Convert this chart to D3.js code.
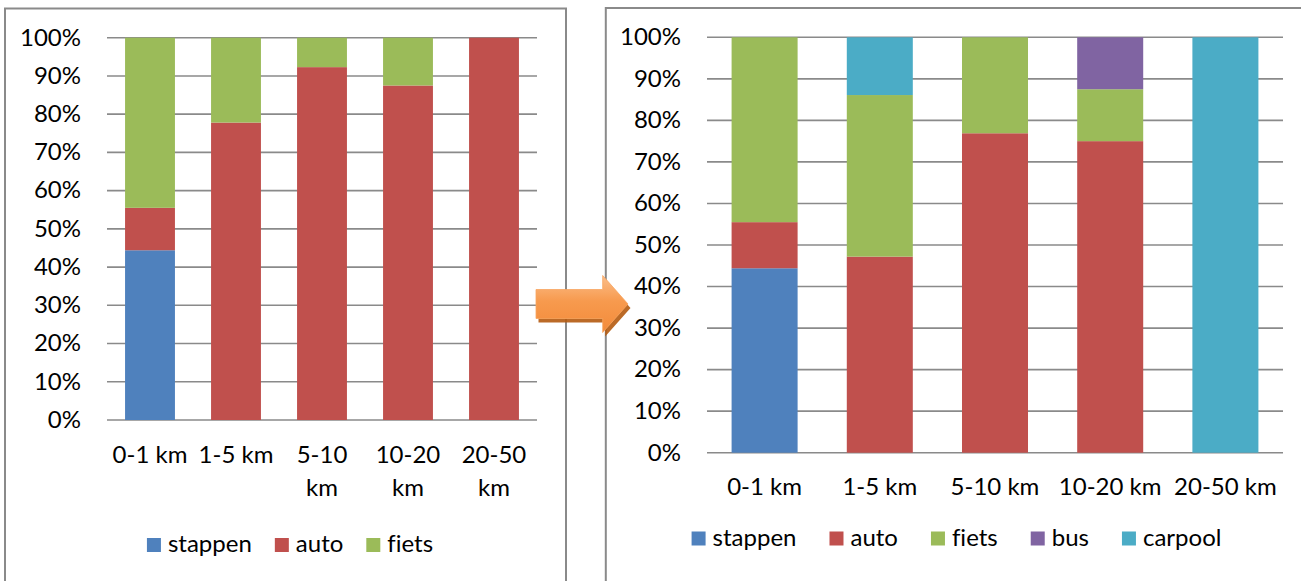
<!DOCTYPE html>
<html><head><meta charset="utf-8">
<script src="https://cdn.jsdelivr.net/npm/d3@7"></script>
<style>
html,body{margin:0;padding:0;background:#fff;overflow:hidden}
svg{display:block}
text{font-family:Lato,"Liberation Sans",sans-serif;fill:#000;font-variant-ligatures:none;font-feature-settings:"liga" 0}
</style></head><body>
<svg id="chart" width="1301" height="581"></svg>
<script>
// ---------- data ----------
const categories = ["0-1 km", "1-5 km", "5-10 km", "10-20 km", "20-50 km"];

const beforeKeys = ["stappen", "auto", "fiets"];
const beforeStappen = [44.4, 0, 0, 0, 0];
const beforeAuto    = [11.1, 77.8, 92.3, 87.5, 100];
const beforeFiets   = [44.5, 22.2, 7.7, 12.5, 0];

const afterKeys = ["stappen", "auto", "fiets", "bus", "carpool"];
const afterStappen = [44.4, 0, 0, 0, 0];
const afterAuto    = [11.1, 47.2, 76.9, 75.0, 0];
const afterFiets   = [44.5, 38.9, 23.1, 12.5, 0];
const afterBus     = [0, 0, 0, 12.5, 0];
const afterCarpool = [0, 13.9, 0, 0, 100];

const yTickValues = [0, 10, 20, 30, 40, 50, 60, 70, 80, 90, 100];
const yTickLabels = ["0%", "10%", "20%", "30%", "40%", "50%", "60%", "70%", "80%", "90%", "100%"];

const colors = {stappen: "#4F81BD", auto: "#C0504D", fiets: "#9BBB59", bus: "#8064A2", carpool: "#4BACC6"};

// ---------- drawing ----------
const svg = d3.select("#chart");
const FONT = 24;
const GRID = "#8a8a8a";

function buildRows(keys, arrays) {
  return categories.map((c, i) => {
    const r = {cat: c};
    keys.forEach((k, j) => r[k] = arrays[j][i]);
    return r;
  });
}

function drawPanel(cfg) {
  const g = svg.append("g");
  // frame
  g.append("rect")
    .attr("x", cfg.box.x).attr("y", cfg.box.y)
    .attr("width", cfg.box.w).attr("height", cfg.box.h)
    .attr("fill", "#fff").attr("stroke", GRID).attr("stroke-width", 2);

  const x = d3.scaleBand().domain(categories)
    .range([cfg.plot.left, cfg.plot.right])
    .paddingInner(cfg.pad).paddingOuter(cfg.pad / 2);
  const y = d3.scaleLinear().domain([0, 100]).range([cfg.plot.bottom, cfg.plot.top]);

  // gridlines
  g.append("g").selectAll("line").data(yTickValues).join("line")
    .attr("x1", cfg.plot.left).attr("x2", cfg.plot.right)
    .attr("y1", d => y(d)).attr("y2", d => y(d))
    .attr("stroke", GRID).attr("stroke-width", 1.6);

  // y labels
  g.append("g").selectAll("text").data(yTickValues).join("text")
    .attr("x", cfg.yLabelX).attr("y", d => y(d) + 7.8)
    .attr("text-anchor", "end").attr("font-size", FONT)
    .text((d, i) => yTickLabels[i]);

  // bars
  const rows = buildRows(cfg.keys, cfg.arrays);
  const stack = d3.stack().keys(cfg.keys)(rows);
  g.append("g").selectAll("g").data(stack).join("g")
    .attr("fill", s => colors[s.key])
    .selectAll("rect").data(s => s.filter(d => d[1] - d[0] > 0)).join("rect")
    .attr("x", d => x(d.data.cat))
    .attr("width", x.bandwidth())
    .attr("y", d => y(d[1]))
    .attr("height", d => y(d[0]) - y(d[1]));

  // x labels (wrapped if wider than the limit)
  const xl = g.append("g");
  categories.forEach(c => {
    const cx = x(c) + x.bandwidth() / 2;
    const t = xl.append("text").attr("x", cx).attr("y", cfg.plot.bottom + cfg.xLabelDy)
      .attr("text-anchor", "middle").attr("font-size", FONT).text(c);
    if (t.node().getComputedTextLength() > cfg.wrapWidth) {
      const parts = c.split(" ");
      t.text(null);
      parts.forEach((p, i) => {
        t.append("tspan").attr("x", cx).attr("dy", i === 0 ? 0 : cfg.lineH).text(p);
      });
    }
  });

  // legend
  const lg = g.append("g");
  const items = cfg.keys.map(k => {
    const it = lg.append("g");
    it.append("rect").attr("width", 14).attr("height", 14).attr("y", cfg.legendY - 14)
      .attr("fill", colors[k]);
    const t = it.append("text").attr("x", 21).attr("y", cfg.legendY)
      .attr("font-size", FONT).text(k);
    return {g: it, w: 21 + t.node().getComputedTextLength()};
  });
  const total = d3.sum(items, d => d.w) + cfg.legendGap * (items.length - 1);
  let cur = cfg.legendCx - total / 2;
  items.forEach(it => {
    it.g.attr("transform", `translate(${cur},0)`);
    cur += it.w + cfg.legendGap;
  });
}

drawPanel({
  box: {x: 5, y: 8.5, w: 561, h: 640},
  plot: {left: 107, right: 537, top: 37.7, bottom: 420},
  pad: 0.42,
  keys: beforeKeys,
  arrays: [beforeStappen, beforeAuto, beforeFiets],
  yLabelX: 81,
  xLabelDy: 43,
  wrapWidth: 80,
  lineH: 32.6,
  legendY: 552,
  legendCx: 290,
  legendGap: 23
});

drawPanel({
  box: {x: 605.8, y: 8, w: 760, h: 640},
  plot: {left: 707, right: 1283, top: 37.3, bottom: 452.7},
  pad: 0.427,
  keys: afterKeys,
  arrays: [afterStappen, afterAuto, afterFiets, afterBus, afterCarpool],
  yLabelX: 681,
  xLabelDy: 42.5,
  wrapWidth: 200,
  lineH: 32.6,
  legendY: 545.5,
  legendCx: 956.5,
  legendGap: 33
});

// ---------- arrow ----------
const defs = svg.append("defs");
const grad = defs.append("linearGradient").attr("id", "arrowGrad")
  .attr("x1", 0).attr("y1", 0).attr("x2", 0).attr("y2", 1);
grad.append("stop").attr("offset", "0%").attr("stop-color", "#FBBE8A");
grad.append("stop").attr("offset", "45%").attr("stop-color", "#F79A4E");
grad.append("stop").attr("offset", "100%").attr("stop-color", "#F38B3A");

const arrow = {x0: 536, headX: 602.7, tipX: 628, cy: 304, shaftH: 29, headH: 57};
function arrowPath(a) {
  return d3.line()([
    [a.x0, a.cy - a.shaftH / 2], [a.headX, a.cy - a.shaftH / 2], [a.headX, a.cy - a.headH / 2],
    [a.tipX, a.cy], [a.headX, a.cy + a.headH / 2], [a.headX, a.cy + a.shaftH / 2],
    [a.x0, a.cy + a.shaftH / 2]
  ]) + "Z";
}
svg.append("path").attr("d", arrowPath(arrow)).attr("transform", "translate(2.5,4)")
  .attr("fill", "#B45A10").attr("opacity", 0.9);
svg.append("path").attr("d", arrowPath(arrow)).attr("fill", "url(#arrowGrad)")
  .attr("stroke", "#F7A560").attr("stroke-width", 0.8);
</script>
</body></html>
